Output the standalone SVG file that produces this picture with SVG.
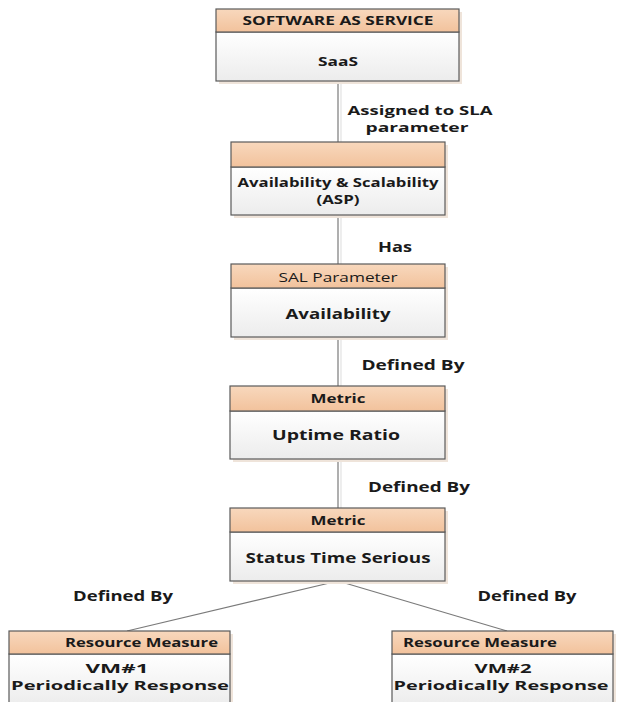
<svg xmlns="http://www.w3.org/2000/svg" width="618" height="702" viewBox="0 0 618 702">
<style>
.hd{fill:url(#gh);stroke:#5a5a5a;stroke-width:1.2}
.bd{fill:url(#gb);stroke:#5a5a5a;stroke-width:1.2}
.sh{fill:#efe4da}
.t{font-family:"Open Sans","Liberation Sans",sans-serif;font-weight:bold;fill:#1a1a1a;text-anchor:middle}
.r{font-weight:normal}
.c{fill:none;stroke:#7a7a7a;stroke-width:1.2}
.cs{fill:none;stroke:#e2e2e2;stroke-width:1.2}
</style>
<defs>
<linearGradient id="gh" x1="0" y1="0" x2="0" y2="1"><stop offset="0" stop-color="#f8d8bd"/><stop offset="1" stop-color="#f2c29c"/></linearGradient>
<linearGradient id="gb" x1="0" y1="0" x2="0" y2="1"><stop offset="0" stop-color="#ffffff"/><stop offset="1" stop-color="#ececec"/></linearGradient>
</defs>
<rect width="618" height="702" fill="#ffffff"/>
<g id="connectors">
<line class="cs" x1="341" y1="81" x2="341" y2="142"/>
<line class="c" x1="338" y1="81" x2="338" y2="142"/>
<line class="cs" x1="341" y1="215" x2="341" y2="264"/>
<line class="c" x1="338" y1="215" x2="338" y2="264"/>
<line class="cs" x1="341" y1="337" x2="341" y2="386"/>
<line class="c" x1="338" y1="337" x2="338" y2="386"/>
<line class="cs" x1="341" y1="459" x2="341" y2="508"/>
<line class="c" x1="338" y1="459" x2="338" y2="508"/>
<line class="c" x1="338" y1="581" x2="127" y2="631"/>
<line class="c" x1="338" y1="581" x2="507" y2="631"/>
<text class="t" x="420" y="115" font-size="12.5" textLength="145" lengthAdjust="spacingAndGlyphs">Assigned to SLA</text>
<text class="t" x="417" y="132" font-size="12.5" textLength="103" lengthAdjust="spacingAndGlyphs">parameter</text>
<text class="t" x="395" y="252" font-size="14" textLength="34" lengthAdjust="spacingAndGlyphs">Has</text>
<text class="t" x="413" y="370" font-size="14" textLength="103" lengthAdjust="spacingAndGlyphs">Defined By</text>
<text class="t" x="419" y="492" font-size="14" textLength="102" lengthAdjust="spacingAndGlyphs">Defined By</text>
<text class="t" x="123" y="601" font-size="14" textLength="100" lengthAdjust="spacingAndGlyphs">Defined By</text>
<text class="t" x="527" y="601" font-size="14" textLength="99" lengthAdjust="spacingAndGlyphs">Defined By</text>
</g>
<g id="n1">
<rect class="sh" x="219" y="12" width="243" height="72"/>
<rect class="bd" x="216" y="32" width="243" height="49"/>
<rect class="hd" x="216" y="9" width="243" height="23"/>
<text class="t" x="338" y="24.5" font-size="12.5" textLength="191" lengthAdjust="spacingAndGlyphs">SOFTWARE AS SERVICE</text>
<text class="t" x="338" y="66" font-size="12.5" textLength="40" lengthAdjust="spacingAndGlyphs">SaaS</text>
</g>
<g id="n2">
<rect class="sh" x="234" y="145" width="214" height="73"/>
<rect class="bd" x="231" y="167" width="214" height="48"/>
<rect class="hd" x="231" y="142" width="214" height="25"/>
<text class="t" x="338" y="187" font-size="12.5" textLength="201" lengthAdjust="spacingAndGlyphs">Availability &amp; Scalability</text>
<text class="t" x="338" y="204" font-size="12.5" textLength="43" lengthAdjust="spacingAndGlyphs">(ASP)</text>
</g>
<g id="n3">
<rect class="sh" x="234" y="267" width="214" height="73"/>
<rect class="bd" x="231" y="288" width="214" height="49"/>
<rect class="hd" x="231" y="264" width="214" height="24"/>
<text class="t r" x="338" y="282" font-size="13.5" textLength="119" lengthAdjust="spacingAndGlyphs">SAL Parameter</text>
<text class="t" x="338" y="319" font-size="15" textLength="105" lengthAdjust="spacingAndGlyphs">Availability</text>
</g>
<g id="n4">
<rect class="sh" x="233" y="389" width="215" height="73"/>
<rect class="bd" x="230" y="411" width="215" height="48"/>
<rect class="hd" x="230" y="386" width="215" height="25"/>
<text class="t" x="338" y="403" font-size="12.5" textLength="55" lengthAdjust="spacingAndGlyphs">Metric</text>
<text class="t" x="336" y="440" font-size="14" textLength="128" lengthAdjust="spacingAndGlyphs">Uptime Ratio</text>
</g>
<g id="n5">
<rect class="sh" x="233" y="511" width="215" height="73"/>
<rect class="bd" x="230" y="532" width="215" height="49"/>
<rect class="hd" x="230" y="508" width="215" height="24"/>
<text class="t" x="338" y="525" font-size="12.5" textLength="55" lengthAdjust="spacingAndGlyphs">Metric</text>
<text class="t" x="338" y="563" font-size="14" textLength="185" lengthAdjust="spacingAndGlyphs">Status Time Serious</text>
</g>
<g id="n6">
<rect class="sh" x="12" y="634" width="221" height="72"/>
<rect class="bd" x="9" y="654" width="221" height="52"/>
<rect class="hd" x="9" y="631" width="221" height="23"/>
<text class="t" x="141.5" y="647" font-size="12.5" textLength="153" lengthAdjust="spacingAndGlyphs">Resource Measure</text>
<text class="t" x="117" y="673" font-size="12.5" textLength="63" lengthAdjust="spacingAndGlyphs">VM#1</text>
<text class="t" x="120" y="690" font-size="12.5" textLength="218" lengthAdjust="spacingAndGlyphs">Periodically Response</text>
</g>
<g id="n7">
<rect class="sh" x="395" y="634" width="221" height="72"/>
<rect class="bd" x="392" y="654" width="221" height="52"/>
<rect class="hd" x="392" y="631" width="221" height="23"/>
<text class="t" x="480" y="647" font-size="12.5" textLength="154" lengthAdjust="spacingAndGlyphs">Resource Measure</text>
<text class="t" x="503" y="673" font-size="12.5" textLength="57" lengthAdjust="spacingAndGlyphs">VM#2</text>
<text class="t" x="501" y="690" font-size="12.5" textLength="215" lengthAdjust="spacingAndGlyphs">Periodically Response</text>
</g>
</svg>
